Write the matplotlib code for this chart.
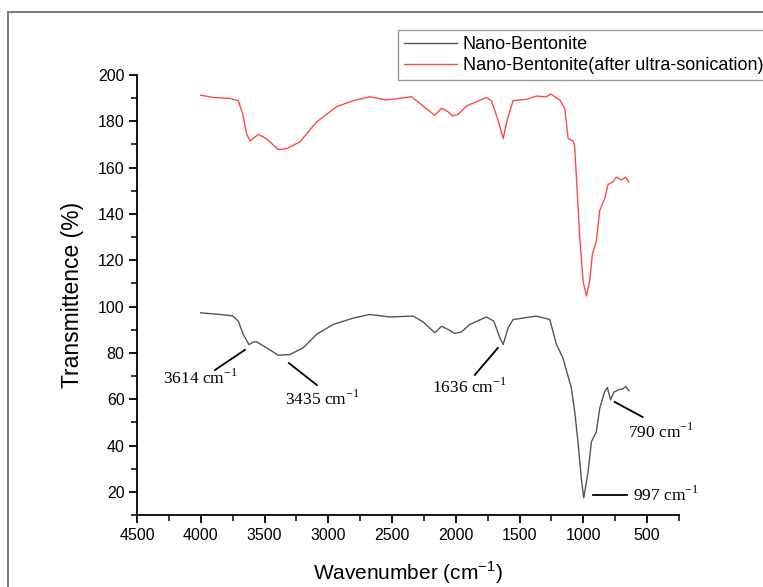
import matplotlib
matplotlib.use("Agg")
import matplotlib.pyplot as plt
from matplotlib.patches import Rectangle
from matplotlib.ticker import MultipleLocator

SANS = "Liberation Sans"
SERIF = "Liberation Serif"

# ---- data ----
black_w = [4000, 3850, 3750, 3706, 3667, 3622, 3590, 3562, 3484, 3393, 3301, 3197, 3092, 2961, 2805, 2674,
           2517, 2335, 2257, 2165, 2112, 2060, 2008, 1955, 1890, 1760, 1702, 1655, 1629, 1590,
           1551, 1368, 1263, 1211, 1160, 1094, 1068, 1042, 1016, 997, 963, 937, 898, 872, 833,
           812, 786, 762, 728, 689, 668, 642]
black_v = [97.3, 96.6, 96.0, 93.7, 88.0, 83.6, 84.6, 84.8, 82.2, 79.0, 79.3, 82.2, 88.0, 92.3, 95.0, 96.6,
           95.5, 95.9, 93.4, 88.7, 91.5, 90.1, 88.4, 89.1, 92.3, 95.5, 93.7, 86.5, 83.6, 90.8,
           94.4, 95.9, 94.4, 83.6, 77.8, 64.8, 54.7, 41.6, 25.7, 17.4, 28.6, 41.6, 46.0, 56.0, 63.3,
           65.0, 59.7, 63.0, 64.0, 64.5, 65.5, 63.6]

red_w = [4000, 3903, 3771, 3706, 3672, 3641, 3614, 3549, 3484, 3393, 3328, 3223, 3092, 2935,
         2805, 2674, 2544, 2347, 2243, 2165, 2112, 2060, 2026, 1982, 1917, 1839, 1760, 1721,
         1669, 1629, 1598, 1551, 1446, 1368, 1290, 1255, 1185, 1146, 1119, 1080, 1068, 1050,
         1028, 1002, 976, 950, 929, 898, 872, 833, 807, 772, 741, 702, 668, 642]
red_v = [191.3, 190.3, 189.9, 188.9, 183.4, 174.7, 171.5, 174.4, 172.5, 167.8, 168.2, 171.1, 179.7, 186.3,
         188.9, 190.6, 189.2, 190.6, 186.0, 182.6, 185.6, 184.1, 182.3, 183.0, 186.6, 188.4, 190.3, 188.9,
         180.5, 172.5, 180.5, 188.9, 189.5, 190.9, 190.6, 191.8, 189.2, 185.6, 172.5, 171.5, 168.9, 151.5,
         129.8, 111.0, 104.6, 111.0, 122.6, 128.4, 141.4, 146.5, 152.7, 153.7, 155.9, 154.7, 155.9, 153.7]

series_labels = ["Nano-Bentonite", "Nano-Bentonite(after ultra-sonication)"]
x_ticks = [4500, 4000, 3500, 3000, 2500, 2000, 1500, 1000, 500]
y_ticks = [20, 40, 60, 80, 100, 120, 140, 160, 180, 200]

# annotations: label, line start (w, v), line end (w, v), text anchor (w, v)
ann_labels = ["3614", "3435", "1636", "790", "997"]
ann_line_a = [(3654, 81.3), (3309, 75.6), (1671, 82.1), (754, 58.8), (926, 18.7)]
ann_line_b = [(3889, 72.6), (3089, 66.1), (1851, 70.5), (535, 52.3), (660, 18.7)]
ann_text = [(4000, 69.0), (3050, 60.0), (1890, 65.3), (650, 45.9), (613, 18.7)]
ann_ha = ["center", "center", "center", "left", "left"]

# ---- figure ----
fig = plt.figure(figsize=(7.63, 5.87), dpi=100)
fig.patches.append(Rectangle((8 / 763, -0.1), 1.2, 1 - 12 / 587 + 0.1, transform=fig.transFigure,
                             fill=False, edgecolor="#7a7a7a", linewidth=1.4))
ax = fig.add_axes([137 / 763, 1 - 515 / 587, 542 / 763, 440 / 587])

ax.plot(black_w, black_v, color="#555555", lw=1.0, label=series_labels[0])
ax.plot(red_w, red_v, color="#ff4a4a", lw=1.0, label=series_labels[1])

ax.set_xlim(4500, 250)
ax.set_ylim(10, 200)
ax.set_xticks(x_ticks)
ax.set_yticks(y_ticks)
ax.xaxis.set_minor_locator(MultipleLocator(250))
ax.yaxis.set_minor_locator(MultipleLocator(10))
for s in ["top", "right"]:
    ax.spines[s].set_visible(False)
for s in ["left", "bottom"]:
    ax.spines[s].set_linewidth(1.3)
ax.tick_params(which="major", direction="out", length=6, width=1.3, labelsize=11.5, pad=3)
ax.tick_params(which="minor", direction="out", length=4, width=1.1)
for lab in ax.get_xticklabels() + ax.get_yticklabels():
    lab.set_fontfamily(SANS)

ax.set_xlabel("Wavenumber (cm$^{\\mathregular{-1}}$)", fontsize=15, family=SANS, labelpad=12)
ax.set_ylabel("Transmittence (%)", fontsize=16.5, family=SANS, labelpad=10)

for lab, a, b, t, ha in zip(ann_labels, ann_line_a, ann_line_b, ann_text, ann_ha):
    ax.plot([a[0], b[0]], [a[1], b[1]], color="black", lw=1.3)
    ax.text(t[0], t[1], lab + " cm$^{\\mathregular{-1}}$", family=SERIF, fontsize=12.5,
            ha=ha, va="center")

leg = ax.legend(loc="upper left", bbox_to_anchor=(398 / 763, 1 - 30 / 587), bbox_transform=fig.transFigure,
                prop={"family": SANS, "size": 13}, frameon=True, fancybox=False, framealpha=1,
                edgecolor="#9a9a9a", handlelength=2.9, handletextpad=0.35, borderpad=0.35,
                labelspacing=0.2, borderaxespad=0)
leg.get_frame().set_linewidth(1.0)

fig.savefig("out.png", dpi=100)
